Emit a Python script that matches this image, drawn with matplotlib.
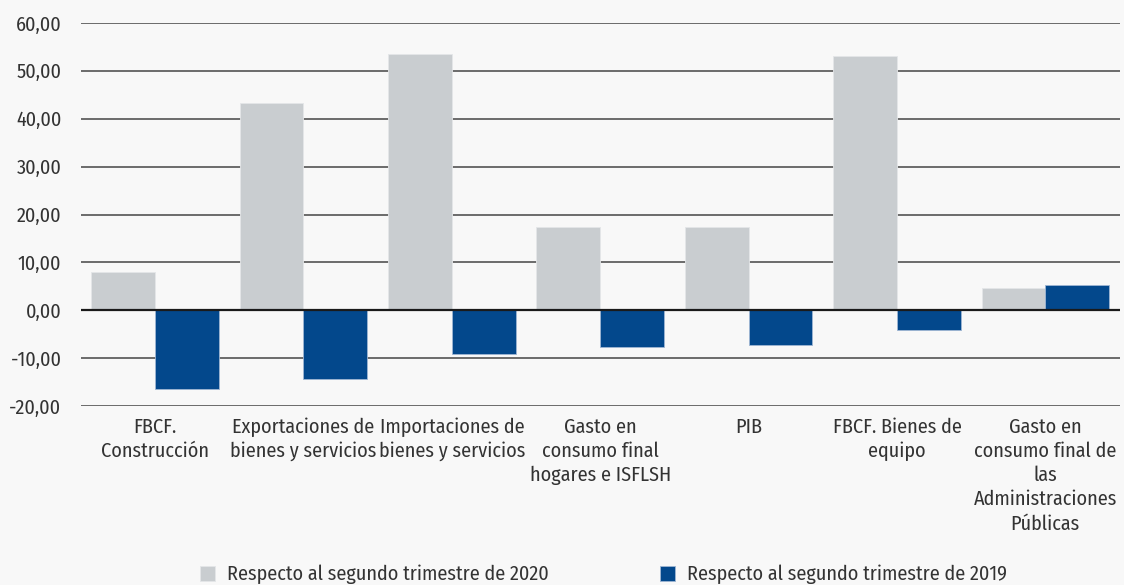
import numpy as np
import matplotlib
matplotlib.use("Agg")
import matplotlib.pyplot as plt
from matplotlib.ticker import FuncFormatter

plt.rcParams['font.family'] = ['Fira Sans Condensed', 'DejaVu Sans']
plt.rcParams['font.weight'] = 'normal'

categories = [
    "FBCF.\nConstrucción",
    "Exportaciones de\nbienes y servicios",
    "Importaciones de\nbienes y servicios",
    "Gasto en\nconsumo final\nhogares e ISFLSH",
    "PIB",
    "FBCF. Bienes de\nequipo",
    "Gasto en\nconsumo final de\nlas\nAdministraciones\nPúblicas",
]
vs_2020 = [8.0, 43.2, 53.4, 17.5, 17.3, 53.0, 4.6]
vs_2019 = [-16.4, -14.3, -9.1, -7.6, -7.3, -4.0, 5.2]
series_names = ["Respecto al segundo trimestre de 2020",
                "Respecto al segundo trimestre de 2019"]

bg = "#f8f8f8"
txt_col = "#333333"
fig = plt.figure(figsize=(11.24, 5.85), dpi=100, facecolor=bg)
ax = fig.add_axes([0.072, 0.3055, 0.924, 0.6555], facecolor=bg)

x = np.arange(len(categories))
w = 0.43
ax.bar(x - w / 2, vs_2020, w, color="#c9cdd0", edgecolor="#e4e6e8", linewidth=0.6,
       label=series_names[0], zorder=3)
ax.bar(x + w / 2, vs_2019, w, color="#03488c", edgecolor="#9fb6d3", linewidth=0.6,
       label=series_names[1], zorder=3)

ax.set_xlim(-0.5, len(categories) - 0.5)
ax.set_ylim(-20, 60)
ax.set_yticks(np.arange(-20, 61, 10))
ax.yaxis.set_major_formatter(FuncFormatter(lambda v, p: f"{v:.2f}".replace(".", ",")))
for v in np.arange(-20, 61, 10):
    if v == 0:
        ax.axhline(v, color="#1a1a1a", lw=1.6, zorder=4)
    else:
        ax.axhline(v, color="#444444", lw=1.1, zorder=1)

ax.set_xticks(x)
ax.set_xticklabels(categories, linespacing=1.3)
ax.tick_params(axis="both", length=0, labelsize=14.5, colors=txt_col)
ax.tick_params(axis="y", pad=14)
ax.tick_params(axis="x", pad=8)
for s in ax.spines.values():
    s.set_visible(False)

fig.legend(loc="lower center", bbox_to_anchor=(0.537, -0.03), ncol=2, frameon=False,
           fontsize=14.5, handlelength=0.75, handleheight=0.75, handletextpad=0.6,
           columnspacing=5.5, labelcolor=txt_col)

fig.savefig("out.png", dpi=100, facecolor=bg)
